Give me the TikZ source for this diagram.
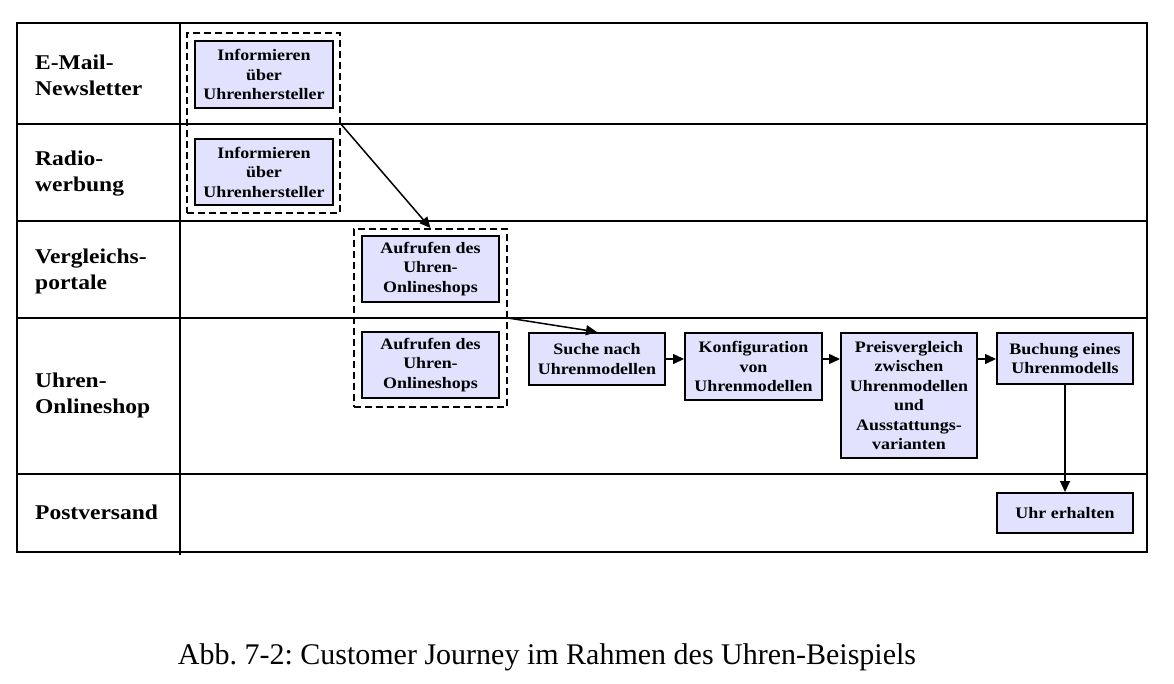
\documentclass[tikz,border=0pt]{standalone}
\usepackage{fontspec}
\setmainfont{Liberation Serif}
\newfontfamily\widefont[FakeStretch=1.12]{Liberation Serif}
\usetikzlibrary{arrows.meta}
\definecolor{boxfill}{HTML}{E2E2FF}
\frenchspacing
\begin{document}
\begin{tikzpicture}[x=1pt,y=-1pt,
  grid/.style={line width=1.8pt},
  stepbox/.style={draw, line width=2pt, fill=boxfill, align=center, inner sep=0pt,
    font=\widefont\bfseries\fontsize{16}{19.5}\selectfont},
  groupbox/.style={draw, dashed, dash pattern=on 7pt off 4pt, line width=1.8pt, inner sep=0pt},
  lanelabel/.style={anchor=west, align=left, inner sep=0pt, font=\widefont\bfseries\fontsize{21}{26}\selectfont},
  flow/.style={line width=1.5pt, -{Triangle[length=11pt,width=10pt]}}]
\useasboundingbox (0,0) rectangle (1174,683);
% table
\draw[grid] (17,23) rectangle (1147,552);
\draw[grid] (180,23) -- (180,555);
\coordinate (r1) at (17,124);
\coordinate (r2) at (17,221);
\coordinate (r3) at (17,318);
\coordinate (r4) at (17,474);
\draw[grid] (r1) -- (1147,124);
\draw[grid] (r2) -- (1147,221);
\draw[grid] (r3) -- (1147,318);
\draw[grid] (r4) -- (1147,474);
% lane labels
\node[lanelabel] (l1) at (35,75) {E-Mail-\\Newsletter};
\node[lanelabel] (l2) at (35,174) {Radio-\\werbung};
\node[lanelabel] (l3) at (35,271) {Vergleichs-\\portale};
\node[lanelabel] (l4) at (35,395) {Uhren-\\Onlineshop};
\node[lanelabel] (l5) at (35,512) {Postversand};
% group boxes
\node[groupbox, minimum width=153pt, minimum height=180pt] (gA) at (263.5,123) {};
\node[groupbox, minimum width=153pt, minimum height=178pt] (gB) at (430.5,318) {};
% steps
\node[stepbox, minimum width=138pt, minimum height=67pt] (b1) at (264,74.5) {Informieren\\über\\Uhrenhersteller};
\node[stepbox, minimum width=138pt, minimum height=66pt] (b2) at (264,172) {Informieren\\über\\Uhrenhersteller};
\node[stepbox, minimum width=137pt, minimum height=66pt] (b3) at (430.5,269) {Aufrufen des\\Uhren-\\Onlineshops};
\node[stepbox, minimum width=137pt, minimum height=66pt] (b4) at (430.5,365) {Aufrufen des\\Uhren-\\Onlineshops};
\node[stepbox, minimum width=136pt, minimum height=52pt] (s1) at (597,359) {Suche nach\\Uhrenmodellen};
\node[stepbox, minimum width=137pt, minimum height=67pt] (s2) at (753.5,366.5) {Konfiguration\\von\\Uhrenmodellen};
\node[stepbox, minimum width=136pt, minimum height=125pt] (s3) at (909,395.5) {Preisvergleich\\zwischen\\Uhrenmodellen\\und\\Ausstattungs-\\varianten};
\node[stepbox, minimum width=136pt, minimum height=51pt] (s4) at (1065,358.5) {Buchung eines\\Uhrenmodells};
\node[stepbox, minimum width=136pt, minimum height=40pt] (s5) at (1065,513) {Uhr erhalten};
% connectors
\draw[flow] (gA.east |- r1) -- (gB.north);
\draw[flow] (gB.east |- r3) -- (s1.north);
\draw[flow] (s1.east) -- (s1.east -| s2.west);
\draw[flow] (s2.east |- s1.east) -- (s3.west |- s1.east);
\draw[flow] (s3.east |- s1.east) -- (s4.west |- s1.east);
\draw[flow] (s4.south) -- (s5.north);
% caption
\node[font=\fontsize{30}{34}\selectfont, inner sep=0pt] (cap) at (547,657) {Abb. 7-2: Customer Journey im Rahmen des Uhren-Beispiels};
\end{tikzpicture}
\end{document}
